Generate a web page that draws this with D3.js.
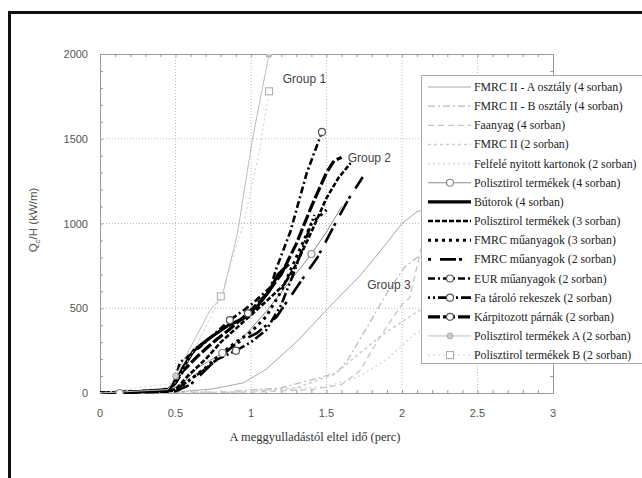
<!DOCTYPE html>
<html>
<head>
<meta charset="utf-8">
<script src="https://cdn.jsdelivr.net/npm/d3@7"></script>
<style>
html, body { margin: 0; background: #fff; overflow: hidden; }
svg { display: block; }
</style>
</head>
<body>
<div id="chart"></div>
<script>
// tick values
var xTicks = [0, 0.5, 1, 1.5, 2, 2.5, 3];
var yTicks = [0, 500, 1000, 1500, 2000];

// legend names, in order
var names = [
	"FMRC II - A osztály (4 sorban)",
	"FMRC II - B osztály (4 sorban)",
	"Faanyag (4 sorban)",
	"FMRC II (2 sorban)",
	"Felfelé nyitott kartonok (2 sorban)",
	"Polisztirol termékek (4 sorban)",
	"Bútorok (4 sorban)",
	"Polisztirol termékek (3 sorban)",
	"FMRC műanyagok (3 sorban)",
	"FMRC műanyagok (2 sorban)",
	"EUR műanyagok (2 sorban)",
	"Fa tároló rekeszek (2 sorban)",
	"Kárpitozott párnák (2 sorban)",
	"Polisztirol termékek A (2 sorban)",
	"Polisztirol termékek B (2 sorban)"
];

// series values [time (perc), Q/H (kW/m)]
var fmrcA = [[0,0],[0.5,5],[0.75,25],[0.95,60],[1.1,140],[1.3,300],[1.5,490],[1.62,600],[1.72,690],[1.85,830],[2.0,1000],[2.1,1070],[2.2,1090]];
var fmrcB = [[0,0],[0.8,5],[1.2,30],[1.45,90],[1.57,120],[1.64,195],[1.77,390],[1.9,590],[2.02,745],[2.1,800],[2.2,850]];
var faanyag = [[0,0],[1.0,5],[1.4,20],[1.6,50],[1.72,130],[1.82,280],[1.92,420],[2.0,520],[2.05,560],[2.14,900],[2.2,1000]];
var fmrcII = [[0,0],[0.9,5],[1.3,30],[1.55,110],[1.7,220],[1.85,330],[2.0,420],[2.1,480],[2.2,520]];
var felfele = [[0,0],[1.1,10],[1.5,40],[1.7,90],[1.9,200],[2.05,320],[2.2,430]];
var poli4 = [[0,0],[0.13,0],[0.45,10],[0.55,60],[0.65,150],[0.81,236],[0.95,330],[1.1,480],[1.25,650],[1.4,820],[1.5,950],[1.6,1100]];
var butorok = [[0,0],[0.2,5],[0.45,20],[0.5,60],[0.55,150],[0.62,250],[0.72,320],[0.85,400],[0.95,440],[1.05,520],[1.12,600],[1.18,700],[1.25,760]];
var poli3 = [[0,0],[0.5,20],[0.58,100],[0.7,200],[0.8,300],[0.95,420],[1.1,540],[1.22,640],[1.3,760],[1.4,950],[1.5,1150],[1.58,1270],[1.66,1357]];
var fmrcM3 = [[0,0],[0.5,15],[0.6,80],[0.7,150],[0.8,230],[0.9,300],[1.0,360],[1.1,450],[1.2,600],[1.3,800],[1.4,1000],[1.5,1080]];
var fmrcM2 = [[0,0],[0.5,10],[0.6,50],[0.75,180],[0.9,290],[1.04,354],[1.17,450],[1.35,685],[1.44,800],[1.57,1020],[1.65,1150],[1.74,1274]];
var eur = [[0,0],[0.4,10],[0.48,40],[0.53,180],[0.66,270],[0.86,430],[1.0,520],[1.13,625],[1.17,740],[1.26,950],[1.37,1300],[1.47,1540]];
var faTarolo = [[0,0],[0.5,15],[0.58,70],[0.68,130],[0.78,200],[0.9,250],[1.0,300],[1.1,370],[1.2,520],[1.28,700],[1.36,900],[1.42,1050]];
var karpit = [[0,0],[0.45,10],[0.5,60],[0.55,130],[0.65,220],[0.75,300],[0.85,370],[0.98,470],[1.1,580],[1.2,700],[1.3,880],[1.4,1100],[1.5,1300],[1.55,1370],[1.6,1390]];
var poliA = [[0,0],[0.45,20],[0.5,100],[0.6,270],[0.73,490],[0.81,570],[0.91,940],[1.01,1500],[1.12,2000]];
var poliB = [[0,0],[0.5,60],[0.65,300],[0.8,570],[0.95,1000],[1.05,1400],[1.12,1780]];

var series = [fmrcA, fmrcB, faanyag, fmrcII, felfele, poli4, butorok, poli3, fmrcM3, fmrcM2, eur, faTarolo, karpit, poliA, poliB];

// marker points on some series
var poli4Marks = [[0.13,0],[0.81,236],[1.4,820]];
var eurMarks = [[1.47,1540],[0.86,430]];
var faTaroloMarks = [[0.9,250]];
var karpitMarks = [[0.98,470]];
var poliAMarks = [[1.12,2000],[0.5,100]];
var poliBMarks = [[0.8,570],[1.12,1780]];
var marks = {5: poli4Marks, 10: eurMarks, 11: faTaroloMarks, 12: karpitMarks, 13: poliAMarks, 14: poliBMarks};

// group labels
var groupLabels = [["Group 1", 1.21, 1850], ["Group 2", 1.64, 1385], ["Group 3", 1.77, 640]];

// line styles for each series
var styles = [
	{ c: "#a8a8a8", w: 1, d: null },
	{ c: "#b8b8b8", w: 1.2, d: "7,3,2,3" },
	{ c: "#c4c4c4", w: 1.3, d: "6,4" },
	{ c: "#cdcdcd", w: 1.6, d: "3,3" },
	{ c: "#dcdcdc", w: 1.6, d: "2,3" },
	{ c: "#8a8a8a", w: 1, d: null, m: "circle" },
	{ c: "#000", w: 3.2, d: null },
	{ c: "#000", w: 2.6, d: "5,2" },
	{ c: "#000", w: 3, d: "3,4" },
	{ c: "#000", w: 2.6, d: "3,9,16,3" },
	{ c: "#000", w: 2.6, d: "7,3,2,3", m: "circle" },
	{ c: "#000", w: 2.6, d: "2,3,2,3,10,3", m: "circle" },
	{ c: "#000", w: 3.2, d: "12,3", m: "circle" },
	{ c: "#bdbdbd", w: 1, d: null, m: "dot" },
	{ c: "#cfcfcf", w: 1, d: "2,3", m: "square" }
];

var W = 642, H = 478;
var margin = { top: 54, left: 100 };
var pw = 453, ph = 339;

var svg = d3.select("#chart").append("svg")
	.attr("width", W)
	.attr("height", H);

// outer frame (cropped at right and bottom)
svg.append("rect")
	.attr("x", 9.5).attr("y", 12.5)
	.attr("width", 700).attr("height", 600)
	.attr("fill", "none")
	.attr("stroke", "#111")
	.attr("stroke-width", 3);

var x = d3.scaleLinear().domain([0, 3]).range([0, pw]);
var y = d3.scaleLinear().domain([0, 2000]).range([ph, 0]);

var g = svg.append("g").attr("transform", "translate(" + margin.left + "," + margin.top + ")");

svg.append("clipPath").attr("id", "clip")
	.append("rect").attr("width", pw).attr("height", ph + 1);

// grid
g.append("g").selectAll("line")
	.data(xTicks.slice(1, -1)).enter().append("line")
	.attr("x1", function(d){ return x(d); }).attr("x2", function(d){ return x(d); })
	.attr("y1", 0).attr("y2", ph)
	.attr("stroke", "#bbb").attr("stroke-dasharray", "1,2");
g.append("g").selectAll("line")
	.data(yTicks.slice(1, -1)).enter().append("line")
	.attr("y1", function(d){ return y(d); }).attr("y2", function(d){ return y(d); })
	.attr("x1", 0).attr("x2", pw)
	.attr("stroke", "#bbb").attr("stroke-dasharray", "1,2");

// axes with inward ticks
var tickColor = "#999";
var minorX = d3.range(0, 3.001, 0.1);
var minorY = d3.range(0, 2001, 100);

var xb = g.append("g").attr("transform", "translate(0," + ph + ")")
	.call(d3.axisBottom(x).tickValues(minorX).tickSize(-3).tickFormat(""));
var xt = g.append("g")
	.call(d3.axisTop(x).tickValues(minorX).tickSize(-3).tickFormat(""));
var yl = g.append("g")
	.call(d3.axisLeft(y).tickValues(minorY).tickSize(-3).tickFormat(""));
var yr = g.append("g").attr("transform", "translate(" + pw + ",0)")
	.call(d3.axisRight(y).tickValues(minorY).tickSize(-3).tickFormat(""));
[xb, xt, yl, yr].forEach(function(a){
	a.selectAll("path").attr("stroke", tickColor);
	a.selectAll("line").attr("stroke", tickColor);
});

// tick labels
g.append("g").selectAll("text")
	.data(xTicks).enter().append("text")
	.attr("x", function(d){ return x(d); })
	.attr("y", ph + 24)
	.attr("text-anchor", "middle")
	.attr("font-family", "Liberation Sans, Arial, sans-serif")
	.attr("font-size", 11)
	.attr("fill", "#555")
	.text(function(d){ return d; });
g.append("g").selectAll("text")
	.data(yTicks).enter().append("text")
	.attr("x", -12)
	.attr("y", function(d){ return y(d) + 4; })
	.attr("text-anchor", "end")
	.attr("font-family", "Liberation Sans, Arial, sans-serif")
	.attr("font-size", 11)
	.attr("fill", "#555")
	.text(function(d){ return d; });

// axis titles
svg.append("text")
	.attr("x", 315).attr("y", 441)
	.attr("text-anchor", "middle")
	.attr("font-family", "Liberation Serif, Times New Roman, serif")
	.attr("font-size", 12.5)
	.attr("fill", "#333")
	.text("A meggyulladástól eltel idő (perc)");

var yt = svg.append("text")
	.attr("transform", "translate(37,220) rotate(-90)")
	.attr("text-anchor", "middle")
	.attr("font-family", "Liberation Sans, Arial, sans-serif")
	.attr("font-size", 11.5)
	.attr("fill", "#555");
yt.append("tspan").text("Q");
yt.append("tspan").attr("font-size", 8).attr("dy", 3).text("c");
yt.append("tspan").attr("dy", -3).text("/H (kW/m)");

// series
var line = d3.line()
	.x(function(d){ return x(d[0]); })
	.y(function(d){ return y(d[1]); });

var plot = g.append("g").attr("clip-path", "url(#clip)");

function drawMarker(sel, type, st, px, py) {
	if (type == "square") {
		sel.append("rect")
			.attr("x", px - 3.5).attr("y", py - 3.5)
			.attr("width", 7).attr("height", 7)
			.attr("fill", "#fff").attr("stroke", "#aaa").attr("stroke-width", 1);
	} else if (type == "dot") {
		sel.append("circle")
			.attr("cx", px).attr("cy", py).attr("r", 3)
			.attr("fill", "#ccc").attr("stroke", "#aaa").attr("stroke-width", 1);
	} else {
		sel.append("circle")
			.attr("cx", px).attr("cy", py).attr("r", 3.5)
			.attr("fill", "#fff").attr("stroke", st.c == "#000" ? "#555" : st.c).attr("stroke-width", 1.2);
	}
}

series.forEach(function(s, i){
	var st = styles[i];
	plot.append("path")
		.datum(s)
		.attr("d", line)
		.attr("fill", "none")
		.attr("stroke", st.c)
		.attr("stroke-width", st.w)
		.attr("stroke-dasharray", st.d)
		.attr("stroke-linejoin", "round");
});
series.forEach(function(s, i){
	var st = styles[i];
	if (marks[i]) {
		marks[i].forEach(function(p){
			drawMarker(plot, st.m, st, x(p[0]), y(p[1]));
		});
	}
});

// group labels
g.append("g").selectAll("text")
	.data(groupLabels).enter().append("text")
	.attr("x", function(d){ return x(d[1]); })
	.attr("y", function(d){ return y(d[2]) + 4; })
	.attr("font-family", "Liberation Sans, Arial, sans-serif")
	.attr("font-size", 12)
	.attr("fill", "#444")
	.text(function(d){ return d[0]; });

// legend
var lg = svg.append("g");
lg.append("rect")
	.attr("x", 421.5).attr("y", 75.5)
	.attr("width", 300).attr("height", 288)
	.attr("fill", "#fff")
	.attr("stroke", "#aaa");

var rowY0 = 87, rowStep = 19.15;
names.forEach(function(n, i){
	var st = styles[i];
	var ry = rowY0 + i * rowStep;
	lg.append("line")
		.attr("x1", 428).attr("x2", 471)
		.attr("y1", ry).attr("y2", ry)
		.attr("stroke", st.c)
		.attr("stroke-width", st.w)
		.attr("stroke-dasharray", st.d);
	if (st.m) drawMarker(lg, st.m, st, 450, ry);
	lg.append("text")
		.attr("x", 474)
		.attr("y", ry + 4)
		.attr("font-family", "Liberation Serif, Times New Roman, serif")
		.attr("font-size", 11.8)
		.attr("fill", "#222")
		.text(n);
});
</script>
</body>
</html>
